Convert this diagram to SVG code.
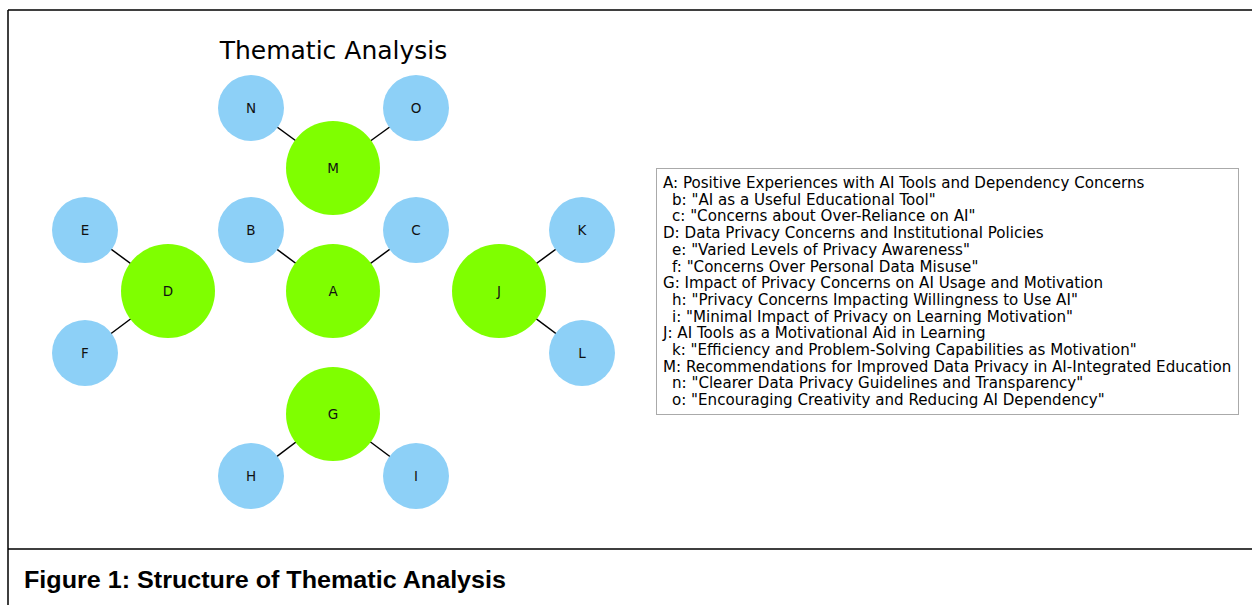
<svg xmlns="http://www.w3.org/2000/svg" width="1252" height="605" viewBox="0 0 1252 605">
<style>
.frame{stroke:#000;stroke-width:1.5;fill:none}
.edge{stroke:#000;stroke-width:1.5}
.theme{fill:#7FFF00}
.code{fill:#8DD0F7}
.lbl{font-family:"DejaVu Sans",sans-serif;font-size:13.5px;fill:#111;text-anchor:middle;dominant-baseline:central}
.title{font-family:"DejaVu Sans",sans-serif;font-size:25px;fill:#000;text-anchor:middle}
.leg{font-family:"DejaVu Sans",sans-serif;font-size:15.1px;fill:#000}
.cap{font-family:"Liberation Sans",Arial,sans-serif;font-size:24px;font-weight:bold;fill:#000}
</style>
<rect width="1252" height="605" fill="#fff"/>
<g id="frame">
<path class="frame" d="M8 10 H1252 M8 10 V605 M8 549 H1252"/>
</g>
<text class="title" x="333.5" y="59">Thematic Analysis</text>
<g id="connectors">
<line class="edge" x1="333" y1="168" x2="251" y2="108"/>
<line class="edge" x1="333" y1="168" x2="416" y2="108"/>
<line class="edge" x1="333" y1="291" x2="251" y2="230"/>
<line class="edge" x1="333" y1="291" x2="416" y2="230"/>
<line class="edge" x1="168" y1="291" x2="85" y2="230"/>
<line class="edge" x1="168" y1="291" x2="85" y2="353"/>
<line class="edge" x1="499" y1="291" x2="582" y2="230"/>
<line class="edge" x1="499" y1="291" x2="582" y2="353"/>
<line class="edge" x1="333" y1="414" x2="251" y2="476"/>
<line class="edge" x1="333" y1="414" x2="416" y2="476"/>
</g>
<g id="M"><circle class="theme" cx="333" cy="168" r="47"/><text class="lbl" x="333" y="168">M</text></g>
<g id="N"><circle class="code" cx="251" cy="108" r="33"/><text class="lbl" x="251" y="108">N</text></g>
<g id="O"><circle class="code" cx="416" cy="108" r="33"/><text class="lbl" x="416" y="108">O</text></g>
<g id="A"><circle class="theme" cx="333" cy="291" r="47"/><text class="lbl" x="333" y="291">A</text></g>
<g id="B"><circle class="code" cx="251" cy="230" r="33"/><text class="lbl" x="251" y="230">B</text></g>
<g id="C"><circle class="code" cx="416" cy="230" r="33"/><text class="lbl" x="416" y="230">C</text></g>
<g id="D"><circle class="theme" cx="168" cy="291" r="47"/><text class="lbl" x="168" y="291">D</text></g>
<g id="E"><circle class="code" cx="85" cy="230" r="33"/><text class="lbl" x="85" y="230">E</text></g>
<g id="F"><circle class="code" cx="85" cy="353" r="33"/><text class="lbl" x="85" y="353">F</text></g>
<g id="J"><circle class="theme" cx="499" cy="291" r="47"/><text class="lbl" x="499" y="291">J</text></g>
<g id="K"><circle class="code" cx="582" cy="230" r="33"/><text class="lbl" x="582" y="230">K</text></g>
<g id="L"><circle class="code" cx="582" cy="353" r="33"/><text class="lbl" x="582" y="353">L</text></g>
<g id="G"><circle class="theme" cx="333" cy="414" r="47"/><text class="lbl" x="333" y="414">G</text></g>
<g id="H"><circle class="code" cx="251" cy="476" r="33"/><text class="lbl" x="251" y="476">H</text></g>
<g id="I"><circle class="code" cx="416" cy="476" r="33"/><text class="lbl" x="416" y="476">I</text></g>
<g id="legend">
<rect x="656.5" y="168.5" width="582" height="246" fill="#fff" stroke="#aaa" stroke-width="1"/>
<text class="leg" x="663" y="188">A: Positive Experiences with AI Tools and Dependency Concerns</text>
<text class="leg" x="672" y="204.7">b: "AI as a Useful Educational Tool"</text>
<text class="leg" x="672" y="221.4">c: "Concerns about Over-Reliance on AI"</text>
<text class="leg" x="663" y="238.1">D: Data Privacy Concerns and Institutional Policies</text>
<text class="leg" x="672" y="254.8">e: "Varied Levels of Privacy Awareness"</text>
<text class="leg" x="672" y="271.5">f: "Concerns Over Personal Data Misuse"</text>
<text class="leg" x="663" y="288.2">G: Impact of Privacy Concerns on AI Usage and Motivation</text>
<text class="leg" x="672" y="304.9">h: "Privacy Concerns Impacting Willingness to Use AI"</text>
<text class="leg" x="672" y="321.6">i: "Minimal Impact of Privacy on Learning Motivation"</text>
<text class="leg" x="663" y="338.3">J: AI Tools as a Motivational Aid in Learning</text>
<text class="leg" x="672" y="355">k: "Efficiency and Problem-Solving Capabilities as Motivation"</text>
<text class="leg" x="663" y="371.7">M: Recommendations for Improved Data Privacy in AI-Integrated Education</text>
<text class="leg" x="672" y="388.4">n: "Clearer Data Privacy Guidelines and Transparency"</text>
<text class="leg" x="672" y="405.1">o: "Encouraging Creativity and Reducing AI Dependency"</text>
</g>
<text class="cap" x="24" y="588" textLength="482" lengthAdjust="spacingAndGlyphs">Figure 1: Structure of Thematic Analysis</text>
</svg>
